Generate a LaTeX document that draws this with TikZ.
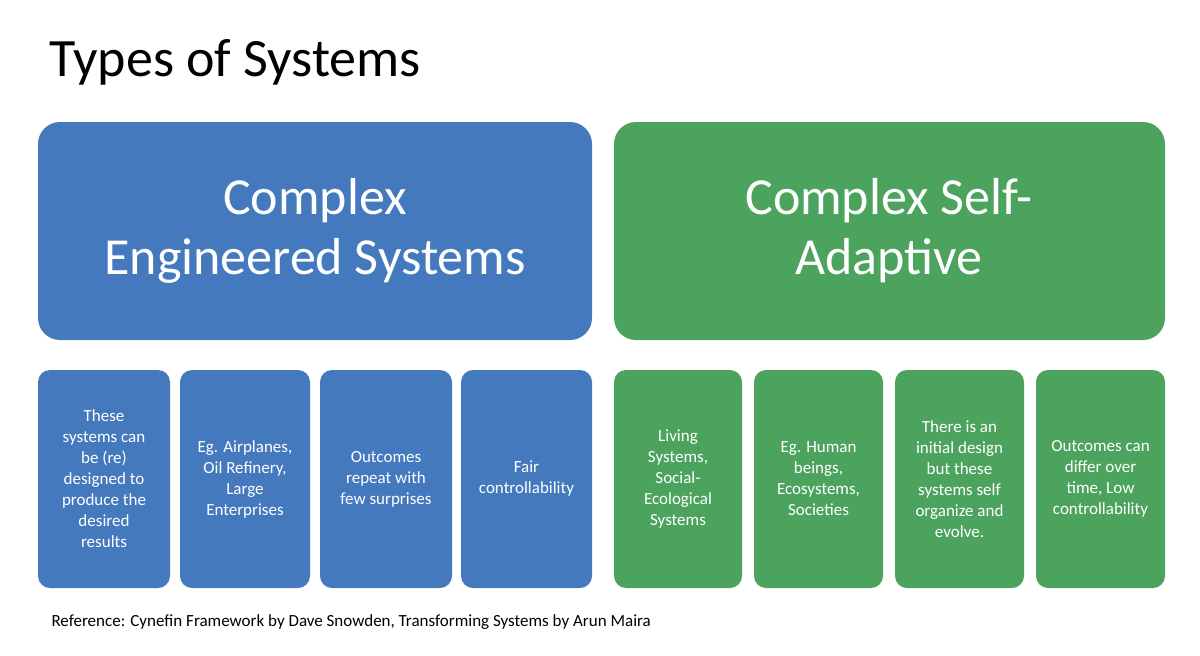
\documentclass[tikz,border=0pt]{standalone}
\usepackage{fontspec}
\setmainfont{Carlito}
\definecolor{cblue}{HTML}{4479BE}
\definecolor{cgreen}{HTML}{4BA35E}
\begin{document}
\begin{tikzpicture}[x=1pt,y=-1pt,
 big/.style={rounded corners=22pt,text=white,align=center,font=\fontsize{52}{60}\selectfont,inner sep=0pt},
 small/.style={rounded corners=12pt,text=white,align=center,font=\fontsize{17}{21}\selectfont,inner sep=0pt}]
\useasboundingbox (0,0) rectangle (1200,656);
\node[anchor=west,font=\fontsize{54}{60}\selectfont] (title) at (46,62) {Types of Systems};
\path[fill=cblue,rounded corners=22pt] (38,122) rectangle (592,340);
\node[big] (ces) at (315,231) {Complex\\Engineered Systems};
\path[fill=cgreen,rounded corners=22pt] (614,122) rectangle (1165,340);
\node[big] (csa) at (889,231) {Complex Self-\\Adaptive};
\foreach \a/\b/\c/\n/\t in {38/170/cblue/b1/{These\\systems can\\be (re)\\designed to\\produce the\\desired\\results},
 180/310/cblue/b2/{Eg. Airplanes,\\Oil Refinery,\\Large\\Enterprises},
 320/452/cblue/b3/{Outcomes\\repeat with\\few surprises},
 461/592/cblue/b4/{Fair\\controllability},
 614/742/cgreen/g1/{Living\\Systems,\\Social-\\Ecological\\Systems},
 754/883/cgreen/g2/{Eg. Human\\beings,\\Ecosystems,\\Societies},
 895/1024/cgreen/g3/{There is an\\initial design\\but these\\systems self\\organize and\\evolve.},
 1036/1165/cgreen/g4/{Outcomes can\\differ over\\time, Low\\controllability}}{
 \path[fill=\c,rounded corners=12pt] (\a,370) rectangle (\b,588);
 \node[small] (\n) at ({(\a+\b)/2},479) {\t};
}
\node[anchor=west,font=\fontsize{17}{20}\selectfont] (ref) at (48,622) {Reference: Cynefin Framework by Dave Snowden, Transforming Systems by Arun Maira};
\end{tikzpicture}
\end{document}
